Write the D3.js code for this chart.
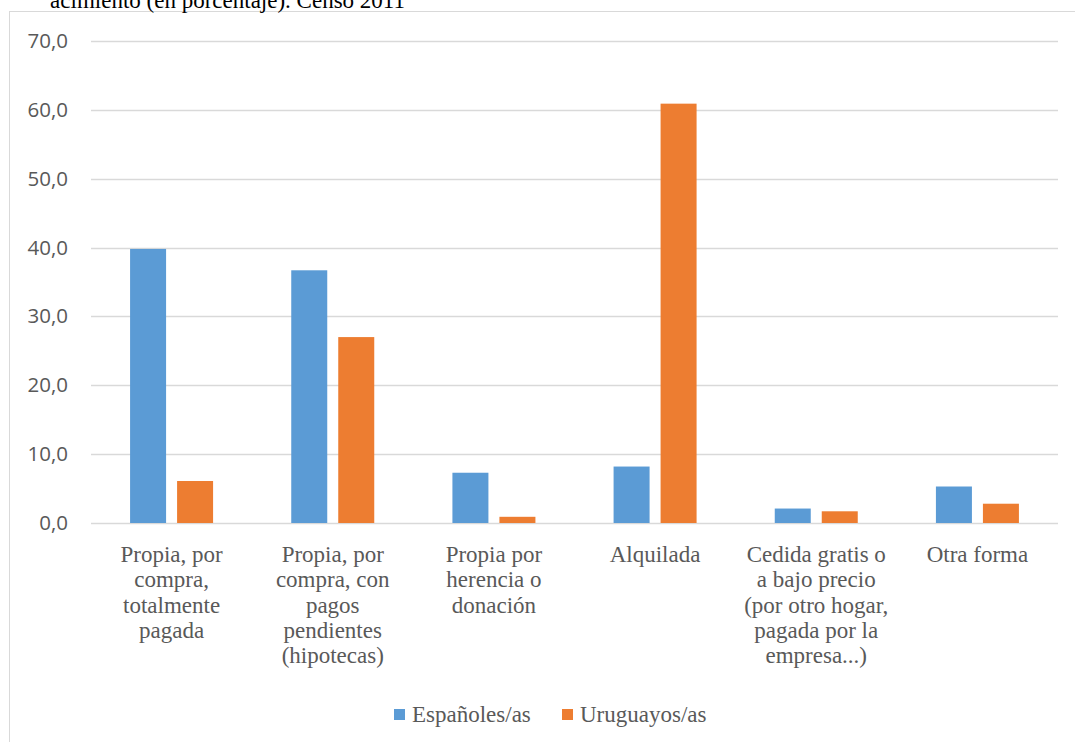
<!DOCTYPE html>
<html>
<head>
<meta charset="utf-8">
<script src="https://cdn.jsdelivr.net/npm/d3@7"></script>
<style>
  body { margin: 0; background: #fff; }
  svg { display: block; }
</style>
</head>
<body>
<svg id="chart" width="1075" height="742"></svg>
<script>
// data
const categories = ["c1", "c2", "c3", "c4", "c5", "c6"];
const categoryLabels = [
    ["Propia, por", "compra,", "totalmente", "pagada"],
    ["Propia, por", "compra, con", "pagos", "pendientes", "(hipotecas)"],
    ["Propia por", "herencia o", "donación"],
    ["Alquilada"],
    ["Cedida gratis o", "a bajo precio", "(por otro hogar,", "pagada por la", "empresa...)"],
    ["Otra forma"]
];
const seriesNames = ["Españoles/as", "Uruguayos/as"];
const espanoles = [39.8, 36.7, 7.3, 8.2, 2.1, 5.3];
const uruguayos = [6.1, 27.0, 0.9, 60.9, 1.7, 2.8];
const yTicks = [0, 10, 20, 30, 40, 50, 60, 70];
const seriesColors = ["#5B9BD5", "#ED7D31"];

const svg = d3.select("#chart");
const plot = { left: 91, right: 1058, top: 41, bottom: 523 };
const serif = "'Liberation Serif', 'Times New Roman', serif";

// chart frame (continues past the photographed area)
svg.append("rect")
    .attr("x", 9.5).attr("y", 11.5)
    .attr("width", 1080).attr("height", 740)
    .attr("fill", "none")
    .attr("stroke", "#d9d9d9")
    .attr("stroke-width", 1);

// title line above the frame, cut by the top of the page as in the source
svg.append("text")
    .attr("x", 405).attr("y", 8)
    .attr("text-anchor", "end")
    .attr("font-family", serif)
    .attr("font-size", 23)
    .attr("fill", "#000")
    .text("acimiento (en porcentaje). Censo 2011");

const y = d3.scaleLinear().domain([0, 70]).range([plot.bottom, plot.top]);
const x0 = d3.scaleBand().domain(categories).range([plot.left, plot.right]);
const bw = x0.bandwidth();
const x1 = d3.scaleBand().domain(seriesNames)
    .range([bw / 2 - 41.5, bw / 2 + 41.5])
    .paddingInner(11 / 47);

// gridlines
svg.append("g").selectAll("line").data(yTicks).join("line")
    .attr("x1", plot.left).attr("x2", plot.right)
    .attr("y1", d => Math.round(y(d)) + 0.5)
    .attr("y2", d => Math.round(y(d)) + 0.5)
    .attr("stroke", "#d9d9d9")
    .attr("stroke-width", 1.3);

// y axis labels
const yAxis = d3.axisLeft(y).tickValues(yTicks).tickSize(0).tickPadding(0)
    .tickFormat(d => d3.format(".1f")(d).replace(".", ","));
svg.append("g")
    .attr("transform", `translate(68,0)`)
    .call(yAxis)
    .call(g => g.select(".domain").remove())
    .selectAll("text")
    .attr("font-family", "'Open Sans', 'Liberation Sans', sans-serif")
    .attr("font-size", 20.5)
    .attr("fill", "#595959");

// bars
const rows = categories.map((c, i) => ({ cat: c, values: [espanoles[i], uruguayos[i]] }));
const groups = svg.append("g").selectAll("g").data(rows).join("g")
    .attr("transform", d => `translate(${x0(d.cat)},0)`);

groups.selectAll("rect")
    .data(d => d.values.map((v, j) => ({ name: seriesNames[j], value: v, j })))
    .join("rect")
    .attr("x", d => x1(d.name))
    .attr("y", d => y(d.value))
    .attr("width", x1.bandwidth())
    .attr("height", d => y(0) - y(d.value))
    .attr("fill", d => seriesColors[d.j]);

// category labels
const catG = svg.append("g").selectAll("text").data(categories).join("text")
    .attr("x", d => x0(d) + bw / 2)
    .attr("y", 562)
    .attr("text-anchor", "middle")
    .attr("font-family", serif)
    .attr("font-size", 23)
    .attr("fill", "#595959");

catG.selectAll("tspan")
    .data((d, i) => categoryLabels[i])
    .join("tspan")
    .attr("x", function() { return d3.select(this.parentNode).attr("x"); })
    .attr("dy", (d, i) => i === 0 ? 0 : 25.3)
    .text(d => d);

// legend
const legendX = [394, 562];
const legend = svg.append("g").selectAll("g").data(seriesNames).join("g")
    .attr("transform", (d, i) => `translate(${legendX[i]},709)`);

legend.append("rect")
    .attr("width", 11).attr("height", 11)
    .attr("fill", (d, i) => seriesColors[i]);

legend.append("text")
    .attr("x", 18).attr("y", 13)
    .attr("font-family", serif)
    .attr("font-size", 23)
    .attr("fill", "#595959")
    .text(d => d);
</script>
</body>
</html>
